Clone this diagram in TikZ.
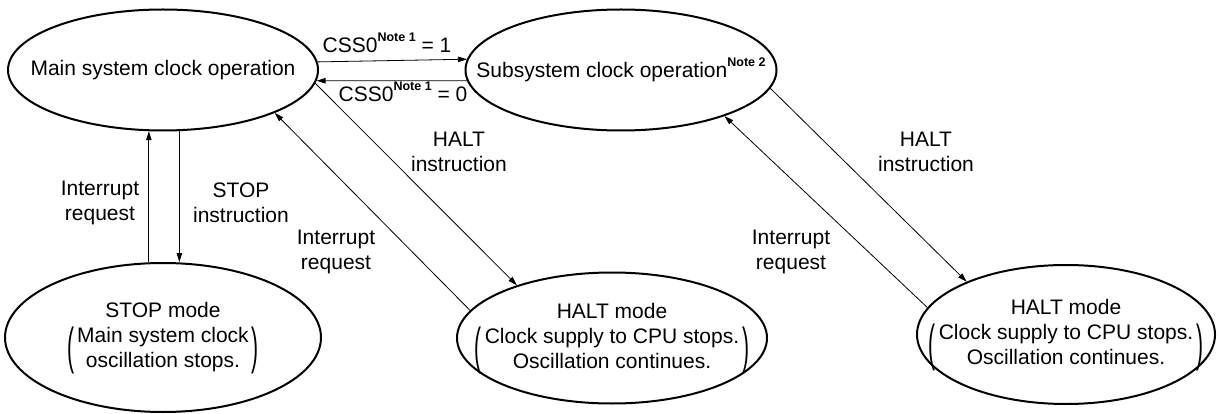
\documentclass[tikz,border=0pt]{standalone}
\usepackage{fontspec}
\setmainfont{Liberation Sans}
\usepackage{graphicx}
\usetikzlibrary{arrows.meta,shapes.geometric}

% tall thin parenthesis spanning two text lines
\newcommand{\tallparen}[1]{$\vcenter{\hbox{\scalebox{1}[2.4]{#1}}}$}
% bold note reference set as a superscript
\newcommand{\notesup}[1]{\raisebox{11pt}{\fontsize{12.5}{13}\selectfont\bfseries Note~#1}}
% text of zero width, so the ellipse keeps its given size
\newcommand{\inside}[1]{\makebox[0pt][c]{#1}}
% mode title followed by a two-line remark in parentheses
\newcommand{\modetext}[3]{\inside{\raisebox{6pt}{\begin{tabular}{@{}c@{}}#1\\[0pt]%
  \tallparen{(}\hspace{3pt}\begin{tabular}{@{}c@{}}#2\\#3\end{tabular}\hspace{3pt}\tallparen{)}\end{tabular}}}}

\tikzset{
  txt/.style={font=\fontsize{21}{25}\selectfont},
  state/.style={txt, ellipse, draw, line width=2pt, inner sep=0pt},
  arr/.style={-{Triangle[length=9pt,width=5.5pt]}, line width=0.8pt},
  lbl/.style={txt, align=center, inner sep=0pt},
}

\begin{document}
\begin{tikzpicture}[x=1pt, y=-1pt]
\useasboundingbox (0,0) rectangle (1218,414);

% operating states
\node[state, minimum width=310pt, minimum height=121pt] (main) at (163,70) {\inside{Main system clock operation}};
\node[state, minimum width=311pt, minimum height=121pt] (sub) at (621,70) {\inside{Subsystem clock operation\notesup{2}}};

% standby states
\node[state, minimum width=316pt, minimum height=149pt] (stop) at (163,337.5)
  {\modetext{STOP mode}{Main system clock}{oscillation stops.}};
\node[state, minimum width=310pt, minimum height=131pt] (halta) at (612,338)
  {\modetext{HALT mode}{Clock supply to CPU stops.}{Oscillation continues.}};
\node[state, minimum width=298pt, minimum height=139pt] (haltb) at (1066,334.5)
  {\modetext{HALT mode}{Clock supply to CPU stops.}{Oscillation continues.}};

% clock selection
\draw[arr] (main.3.7) -- (sub.176.3);
\draw[arr] (sub.-176) -- (main.-4);
\node[txt, anchor=base, inner sep=0pt] (cssa) at (387,53) {CSS0\notesup{1} = 1};
\node[txt, anchor=base, inner sep=0pt] (cssb) at (403,102) {CSS0\notesup{1} = 0};

% STOP mode transitions
\draw[arr] (stop.north -| main.-103.9) -- (main.-103.9);
\draw[arr] (main.-75.2) -- (main.-75.2 |- stop.north);
\node[lbl] (irqa) at (100,203) {Interrupt\\request};
\node[lbl] (stopi) at (241,203) {STOP\\instruction};

% HALT mode from main system clock
\draw[arr] (main.-5.6) -- (halta.151.7);
\draw[arr] (halta.169) -- (main.-21.4);
\node[lbl] (halti) at (459,152) {HALT\\instruction};
\node[lbl] (irqb) at (336,252) {Interrupt\\request};

% HALT mode from subsystem clock
\draw[arr] (sub.-7.6) -- (haltb.152.3);
\draw[arr] (haltb.169.9) -- (sub.-24.2);
\node[lbl] (haltj) at (926,152) {HALT\\instruction};
\node[lbl] (irqc) at (791,252) {Interrupt\\request};
\end{tikzpicture}
\end{document}
